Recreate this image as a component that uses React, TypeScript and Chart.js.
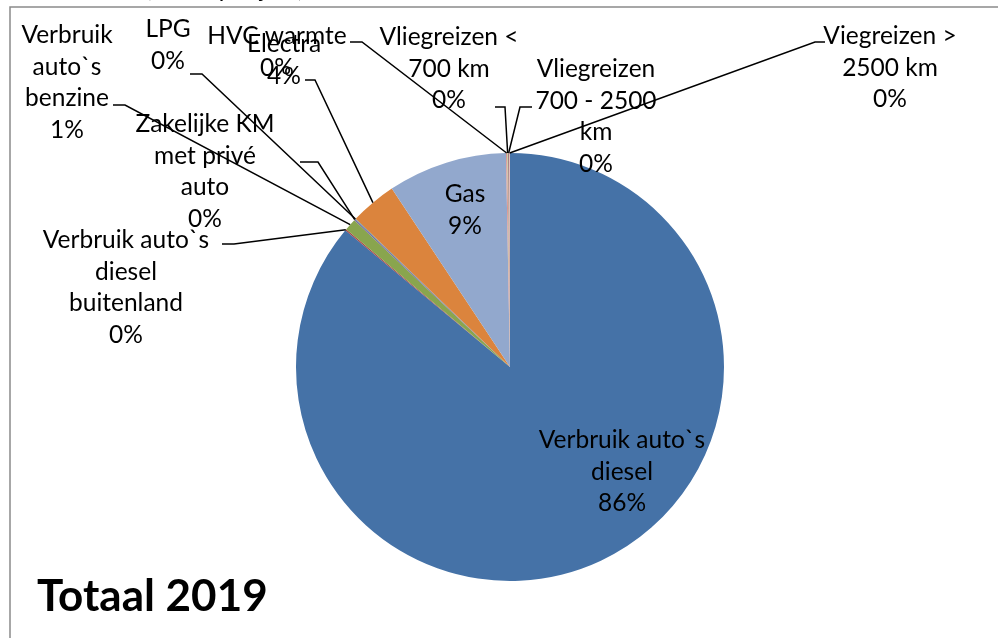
import React, { useEffect, useRef } from "react";
import { Chart, registerables } from "chart.js";

Chart.register(...registerables);

// ---- data ----
const categories = [
  "Verbruik auto`s diesel",
  "Verbruik auto`s diesel buitenland",
  "Verbruik auto`s benzine",
  "Zakelijke KM met privé auto",
  "LPG",
  "Electra",
  "Gas",
  "HVC warmte",
  "Vliegreizen < 700 km",
  "Vliegreizen 700 - 2500 km",
  "Viegreizen > 2500 km",
];
const shares = [85.9, 0.1, 0.9, 0.1, 0.05, 3.5, 9.0, 0.1, 0.05, 0.1, 0.05];
const sliceColors = [
  "#4572A7",
  "#AA4643",
  "#89A54E",
  "#80699B",
  "#3D96AE",
  "#DB843D",
  "#92A8CD",
  "#D99694",
  "#B5CA92",
  "#A47D7C",
  "#E6B9B8",
];
const chartTitle = "Totaal 2019";
const topNote = "CO2 uitstoot (in ton per jaar)";

// ---- label layout (words per line, text centre, first line y, leader segment [xFar, xNear, y]) ----
const labelLayout: { words: number[]; cx: number; y: number; leader: number[] | null }[] = [
  { words: [2, 1], cx: 622, y: 440, leader: null },
  { words: [2, 1, 1], cx: 126, y: 240, leader: [222, 234, 244] },
  { words: [1, 1, 1], cx: 67, y: 35, leader: [113, 125, 105] },
  { words: [2, 2, 1], cx: 205, y: 124, leader: [300, 318, 162] },
  { words: [1], cx: 168, y: 29, leader: [190, 202, 74] },
  { words: [1], cx: 284, y: 44, leader: [305, 315, 80] },
  { words: [1], cx: 465, y: 194, leader: null },
  { words: [2], cx: 277, y: 36, leader: [350, 362, 42] },
  { words: [2, 2], cx: 449, y: 37, leader: [495, 505, 107] },
  { words: [1, 3, 1], cx: 596, y: 69, leader: [532, 520, 107] },
  { words: [2, 2], cx: 890, y: 36, leader: [825, 815, 42] },
];
const lineStep = 31.7;
const labelFont = "24.5px Lato";
const titleFont = "bold 44px Lato";

function splitLines(name: string, words: number[]): string[] {
  const parts = name.split(" ");
  const out: string[] = [];
  let i = 0;
  for (const n of words) {
    out.push(parts.slice(i, i + n).join(" "));
    i += n;
  }
  if (i < parts.length) out[out.length - 1] += " " + parts.slice(i).join(" ");
  return out;
}

const overlayPlugin = {
  id: "overlay",
  afterDraw(chart: any) {
    const ctx = chart.ctx as CanvasRenderingContext2D;
    const meta = chart.getDatasetMeta(0);
    const total = shares.reduce((a, b) => a + b, 0);
    ctx.save();
    // frame
    ctx.strokeStyle = "#8a8a8a";
    ctx.lineWidth = 1.5;
    ctx.beginPath();
    ctx.moveTo(10, 700);
    ctx.lineTo(10, 7);
    ctx.lineTo(1100, 7);
    ctx.stroke();
    // clipped note at top
    ctx.fillStyle = "#000";
    ctx.font = "24px Lato";
    ctx.textAlign = "left";
    ctx.textBaseline = "alphabetic";
    ctx.fillText(topNote, 2, -3);

    // leader lines
    ctx.strokeStyle = "#000";
    ctx.lineWidth = 1.5;
    labelLayout.forEach((lay, i) => {
      if (!lay.leader) return;
      const arc = meta.data[i];
      const p = arc.getProps(["x", "y", "startAngle", "endAngle", "outerRadius"], true);
      const mid = (p.startAngle + p.endAngle) / 2;
      const ex = p.x + Math.cos(mid) * p.outerRadius;
      const ey = p.y + Math.sin(mid) * p.outerRadius;
      const [x1, x2, y] = lay.leader;
      ctx.beginPath();
      ctx.moveTo(x1, y);
      ctx.lineTo(x2, y);
      ctx.lineTo(ex, ey);
      ctx.stroke();
    });

    // labels
    ctx.font = labelFont;
    ctx.textAlign = "center";
    ctx.textBaseline = "middle";
    ctx.fillStyle = "#000";
    labelLayout.forEach((lay, i) => {
      const lines = splitLines(categories[i], lay.words);
      lines.push(Math.round((shares[i] / total) * 100) + "%");
      lines.forEach((t, k) => ctx.fillText(t, lay.cx, lay.y + k * lineStep));
    });

    // title
    ctx.font = titleFont;
    ctx.textAlign = "left";
    ctx.textBaseline = "alphabetic";
    ctx.fillText(chartTitle, 37, 611);
    ctx.restore();
  },
};

export default function App() {
  const ref = useRef<HTMLCanvasElement | null>(null);
  useEffect(() => {
    if (!ref.current) return;
    const chart = new Chart(ref.current, {
      type: "pie",
      data: {
        labels: categories,
        datasets: [
          {
            data: shares,
            backgroundColor: sliceColors,
            borderWidth: 0,
          },
        ],
      },
      options: {
        animation: false,
        responsive: false,
        devicePixelRatio: 1,
        layout: { padding: { left: 296, right: 274, top: 153, bottom: 57 } },
        plugins: {
          legend: { display: false },
          tooltip: { enabled: false },
          title: { display: false },
        },
      },
      plugins: [overlayPlugin],
    });
    return () => chart.destroy();
  }, []);
  return (
    <div style={{ position: "fixed", left: 0, top: 0, width: 998, height: 638, background: "#fff" }}>
      <canvas ref={ref} width={998} height={638} style={{ display: "block" }} />
    </div>
  );
}
